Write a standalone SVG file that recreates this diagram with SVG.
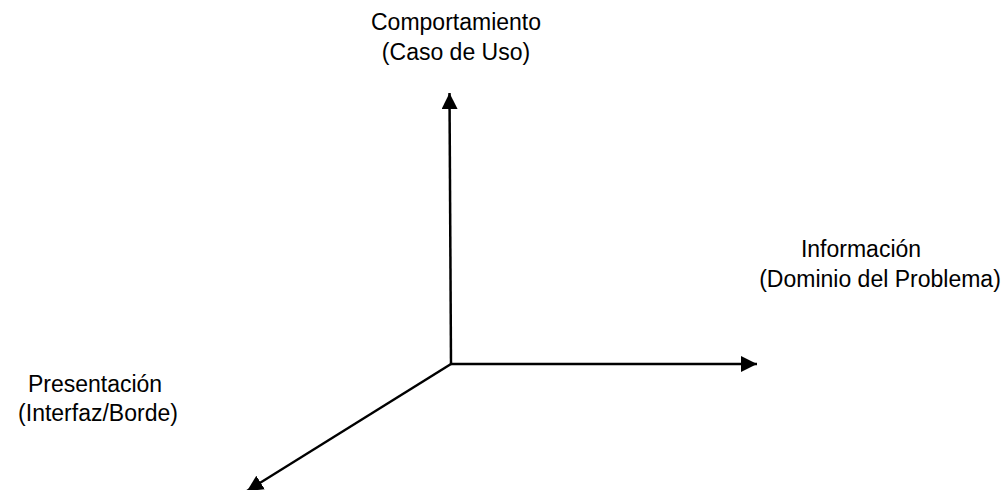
<svg xmlns="http://www.w3.org/2000/svg" width="1004" height="490" viewBox="0 0 1004 490">
<style>
.lbl{font-family:"Liberation Sans",Arial,sans-serif;font-size:23px;fill:#000;text-anchor:middle}
.ax{stroke:#000;stroke-width:2.5;fill:none}
</style>
<defs>
<marker id="ah" viewBox="0 0 10 10" refX="10" refY="5" markerWidth="6.4" markerHeight="6.4" markerUnits="strokeWidth" orient="auto">
<path d="M0,0 L10,5 L0,10 Z" fill="#000"/>
</marker>
</defs>
<rect width="1004" height="490" fill="#fff"/>
<g id="connectors">
<line class="ax" x1="451" y1="364" x2="449.5" y2="93" marker-end="url(#ah)"/>
<line class="ax" x1="451" y1="364" x2="757" y2="364" marker-end="url(#ah)"/>
<line class="ax" x1="451" y1="364" x2="247" y2="491" marker-end="url(#ah)"/>
</g>
<g id="comportamiento">
<text class="lbl" x="456" y="30">Comportamiento</text>
<text class="lbl" x="456" y="60">(Caso de Uso)</text>
</g>
<g id="informacion">
<text class="lbl" x="861" y="257">Información</text>
<text class="lbl" x="880" y="287">(Dominio del Problema)</text>
</g>
<g id="presentacion">
<text class="lbl" x="95" y="392">Presentación</text>
<text class="lbl" x="98" y="421">(Interfaz/Borde)</text>
</g>
</svg>
